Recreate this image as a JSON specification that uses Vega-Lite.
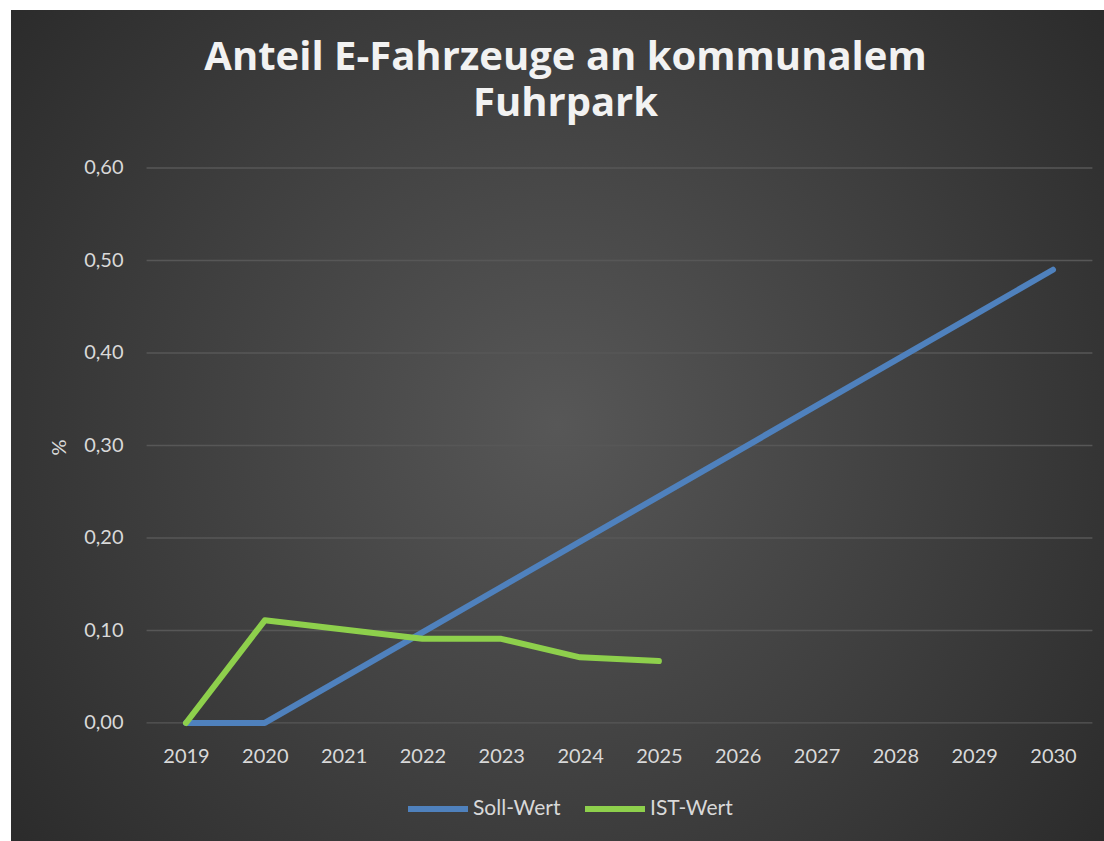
{
  "$schema": "https://vega.github.io/schema/vega-lite/v6.json",
  "width": 1093,
  "height": 831,
  "autosize": {"type": "none"},
  "padding": {"left": 11, "top": 10, "right": 0, "bottom": 0},
  "background": "white",
  "config": {
    "font": "Lato",
    "view": {
      "stroke": null,
      "fill": {
        "gradient": "radial",
        "x1": 0.5, "y1": 0.5, "r1": 0,
        "x2": 0.5, "y2": 0.5, "r2": 0.72,
        "stops": [
          {"offset": 0, "color": "#575757"},
          {"offset": 1, "color": "#252525"}
        ]
      }
    },
    "axisX": {
      "grid": false, "ticks": false, "tickSize": 0, "domain": false,
      "offset": -79, "labelPadding": 0, "labelBaseline": "alphabetic",
      "labelFont": "Lato", "labelFontSize": 20, "labelColor": "#d9d9d9",
      "labelFlush": false, "labelOverlap": false
    },
    "axisY": {
      "grid": false, "ticks": false, "tickSize": 0, "domain": false,
      "offset": -112, "labelPadding": 0,
      "labelFont": "Lato", "labelFontSize": 20, "labelColor": "#d9d9d9",
      "labelFlush": false, "labelOverlap": false,
      "titleFont": "Lato", "titleFontSize": 20, "titleFontWeight": "normal", "titleColor": "#d9d9d9",
      "titleX": -64, "titleY": 437, "titleAlign": "center", "titleBaseline": "middle", "titleAngle": -90
    }
  },
  "title": {
    "text": ["Anteil E-Fahrzeuge an kommunalem", "Fuhrpark"],
    "font": "Open Sans",
    "fontWeight": "bold",
    "fontSize": 40,
    "lineHeight": 46,
    "color": "#f2f2f2",
    "anchor": "middle",
    "frame": "group",
    "dx": 8,
    "dy": 118
  },
  "datasets": {
    "grid": [
      {"value": 0.0}, {"value": 0.1}, {"value": 0.2}, {"value": 0.3},
      {"value": 0.4}, {"value": 0.5}, {"value": 0.6}
    ],
    "series": [
      {"year": 2019, "series": "Soll-Wert", "value": 0.0},
      {"year": 2020, "series": "Soll-Wert", "value": 0.0},
      {"year": 2021, "series": "Soll-Wert", "value": 0.049},
      {"year": 2022, "series": "Soll-Wert", "value": 0.098},
      {"year": 2023, "series": "Soll-Wert", "value": 0.147},
      {"year": 2024, "series": "Soll-Wert", "value": 0.196},
      {"year": 2025, "series": "Soll-Wert", "value": 0.245},
      {"year": 2026, "series": "Soll-Wert", "value": 0.294},
      {"year": 2027, "series": "Soll-Wert", "value": 0.343},
      {"year": 2028, "series": "Soll-Wert", "value": 0.392},
      {"year": 2029, "series": "Soll-Wert", "value": 0.441},
      {"year": 2030, "series": "Soll-Wert", "value": 0.49},
      {"year": 2019, "series": "IST-Wert", "value": 0.0},
      {"year": 2020, "series": "IST-Wert", "value": 0.111},
      {"year": 2021, "series": "IST-Wert", "value": 0.101},
      {"year": 2022, "series": "IST-Wert", "value": 0.091},
      {"year": 2023, "series": "IST-Wert", "value": 0.091},
      {"year": 2024, "series": "IST-Wert", "value": 0.071},
      {"year": 2025, "series": "IST-Wert", "value": 0.067}
    ]
  },
  "layer": [
    {
      "data": {"name": "grid"},
      "mark": {"type": "rule", "color": "#575757", "strokeWidth": 1.3},
      "encoding": {
        "y": {"field": "value", "type": "quantitative",
              "scale": {"domain": [-0.1276, 0.7708], "nice": false, "zero": false},
              "axis": {"title": "%", "values": [0, 0.1, 0.2, 0.3, 0.4, 0.5, 0.6],
                       "labelExpr": "replace(format(datum.value, '.2f'), '.', ',')"}},
        "x": {"datum": 2018.5, "type": "quantitative",
              "scale": {"domain": [2016.78, 2030.647], "nice": false, "zero": false},
              "axis": {"title": null, "format": "d",
                       "values": [2019, 2020, 2021, 2022, 2023, 2024, 2025, 2026, 2027, 2028, 2029, 2030]}},
        "x2": {"datum": 2030.5}
      }
    },
    {
      "data": {"name": "series"},
      "mark": {"type": "line", "strokeWidth": 6, "strokeCap": "round", "strokeJoin": "round"},
      "encoding": {
        "x": {"field": "year", "type": "quantitative",
              "scale": {"domain": [2016.78, 2030.647], "nice": false, "zero": false},
              "axis": {"title": null, "format": "d",
                       "values": [2019, 2020, 2021, 2022, 2023, 2024, 2025, 2026, 2027, 2028, 2029, 2030]}},
        "y": {"field": "value", "type": "quantitative",
              "scale": {"domain": [-0.1276, 0.7708], "nice": false, "zero": false},
              "axis": {"title": "%", "values": [0, 0.1, 0.2, 0.3, 0.4, 0.5, 0.6],
                       "labelExpr": "replace(format(datum.value, '.2f'), '.', ',')"}},
        "color": {
          "field": "series", "type": "nominal",
          "scale": {"domain": ["Soll-Wert", "IST-Wert"], "range": ["#4F81BD", "#8ED04C"]},
          "legend": {
            "title": null, "orient": "none", "direction": "horizontal",
            "legendX": 394, "legendY": 766,
            "symbolType": "stroke", "symbolSize": 3600, "symbolStrokeWidth": 6,
            "labelFont": "Lato", "labelFontSize": 21, "labelColor": "#d9d9d9",
            "labelOffset": 2, "columnPadding": 12
          }
        }
      }
    }
  ]
}
